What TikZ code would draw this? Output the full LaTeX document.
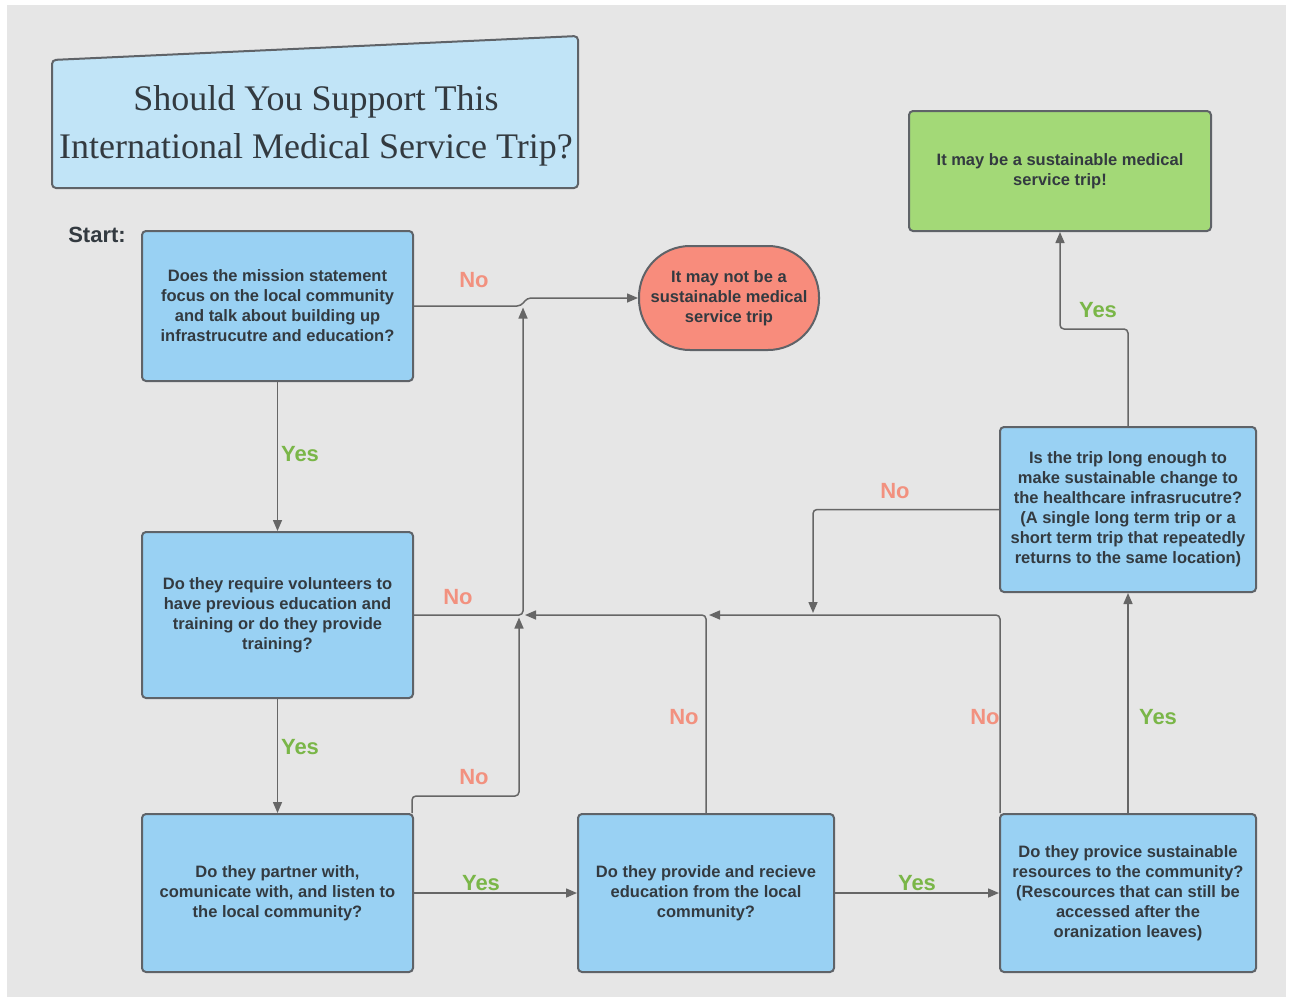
\documentclass[tikz,border=0pt]{standalone}
\usepackage{fontspec}
\setmainfont{Liberation Sans}
\newfontfamily\titlefont{Liberation Serif}
\usetikzlibrary{arrows.meta}
\definecolor{bgc}{HTML}{E6E6E6}
\definecolor{boxc}{HTML}{99D1F3}
\definecolor{titlec}{HTML}{C1E4F7}
\definecolor{redc}{HTML}{F88C7C}
\definecolor{greenc}{HTML}{A3D977}
\definecolor{bordc}{HTML}{5F6368}
\definecolor{linec}{HTML}{666666}
\definecolor{txtc}{HTML}{333A40}
\definecolor{yesc}{HTML}{7AB648}
\definecolor{noc}{HTML}{F2917F}
\begin{document}
\begin{tikzpicture}[x=1pt,y=-1pt,
  qbox/.style={draw=bordc, line width=2pt, fill=boxc, rounded corners=4pt,
    align=center, font=\bfseries\fontsize{16.5}{20}\selectfont, text=txtc, inner sep=0pt},
  conn/.style={draw=linec, line width=1.5pt, rounded corners=4pt,
    -{Triangle[length=11pt,width=9pt]}},
  lab/.style={font=\bfseries\fontsize{22}{22}\selectfont, inner sep=0pt},
  yeslab/.style={lab, text=yesc},
  nolab/.style={lab, text=noc}]
\useasboundingbox (0,0) rectangle (1292,998);
\fill[bgc] (7,5) rectangle (1286,997);

% title
\draw[fill=titlec, draw=bordc, line width=2pt, rounded corners=4pt]
  (52,60) -- (578,36) -- (578,188) -- (52,188) -- cycle;
\node[align=center, text=txtc, inner sep=0pt, font=\titlefont\fontsize{36}{48}\selectfont]
  (title) at (316,126) {Should You Support This\\International Medical Service Trip?};

\node[font=\bfseries\fontsize{22}{22}\selectfont, text=txtc, inner sep=0pt] (start) at (97,235) {Start:};

% nodes
\node[qbox, minimum width=271pt, minimum height=150pt] (A) at (277.5,306)
  {Does the mission statement\\focus on the local community\\and talk about building up\\infrastrucutre and education?};
\node[qbox, minimum width=271pt, minimum height=166pt] (B) at (277.5,615)
  {Do they require volunteers to\\have previous education and\\training or do they provide\\training?};
\node[qbox, minimum width=271pt, minimum height=158pt] (C) at (277.5,893)
  {Do they partner with,\\comunicate with, and listen to\\the local community?};
\node[qbox, minimum width=256pt, minimum height=158pt] (D) at (706,893)
  {Do they provide and recieve\\education from the local\\community?};
\node[qbox, minimum width=256pt, minimum height=158pt] (E) at (1128,893)
  {Do they provice sustainable\\resources to the community?\\(Rescources that can still be\\accessed after the\\oranization leaves)};
\node[qbox, minimum width=256pt, minimum height=165pt] (F) at (1128,509.5)
  {Is the trip long enough to\\make sustainable change to\\the healthcare infrasrucutre?\\(A single long term trip or a\\short term trip that repeatedly\\returns to the same location)};
\node[qbox, fill=greenc, minimum width=302pt, minimum height=120pt] (G) at (1060,171)
  {It may be a sustainable medical\\service trip!};
\node[qbox, fill=redc, rounded corners=51pt, minimum width=180pt, minimum height=104pt] (R) at (729,298)
  {It may not be a\\sustainable medical\\service trip};

% junction coordinates
\coordinate (jA) at (523,307.5);
\coordinate (jA1) at (521,306);
\coordinate (jA2) at (527,298);
\coordinate (jB) at (519,617.5);
\coordinate (jD) at (525,615);
\coordinate (jE) at (709,615);
\coordinate (jF) at (813,613);

% yes connectors
\draw[conn] (A.south) -- (B.north);
\draw[conn] (B.south) -- (C.north);
\draw[conn] (C.east) -- (D.west);
\draw[conn] (D.east) -- (E.west);
\draw[conn] (E.north) -- (F.south);
\draw[conn] (F.north) -- ++(0,-97) -| (G.south);

% no connectors
\draw[conn] (A.east) -- (jA1) -- (jA2) -- (R.west);
\draw[conn] (B.east) -| (jA);
\draw[conn] ([xshift=-2pt]C.north east) -- ++(0,-17) -| (jB);
\draw[conn] (D.north) |- (jD);
\draw[conn] ([xshift=1pt]E.north west) |- (jE);
\draw[conn] (F.west) -| (jF);

% labels
\node[yeslab] (y1) at (300,454) {Yes};
\node[yeslab] (y2) at (300,747) {Yes};
\node[yeslab] (y3) at (481,883) {Yes};
\node[yeslab] (y4) at (917,883) {Yes};
\node[yeslab] (y5) at (1158,717) {Yes};
\node[yeslab] (y6) at (1098,310) {Yes};
\node[nolab] (n1) at (474,280) {No};
\node[nolab] (n2) at (458,597) {No};
\node[nolab] (n3) at (474,777) {No};
\node[nolab] (n4) at (684,717) {No};
\node[nolab] (n5) at (985,717) {No};
\node[nolab] (n6) at (895,491) {No};
\end{tikzpicture}
\end{document}
